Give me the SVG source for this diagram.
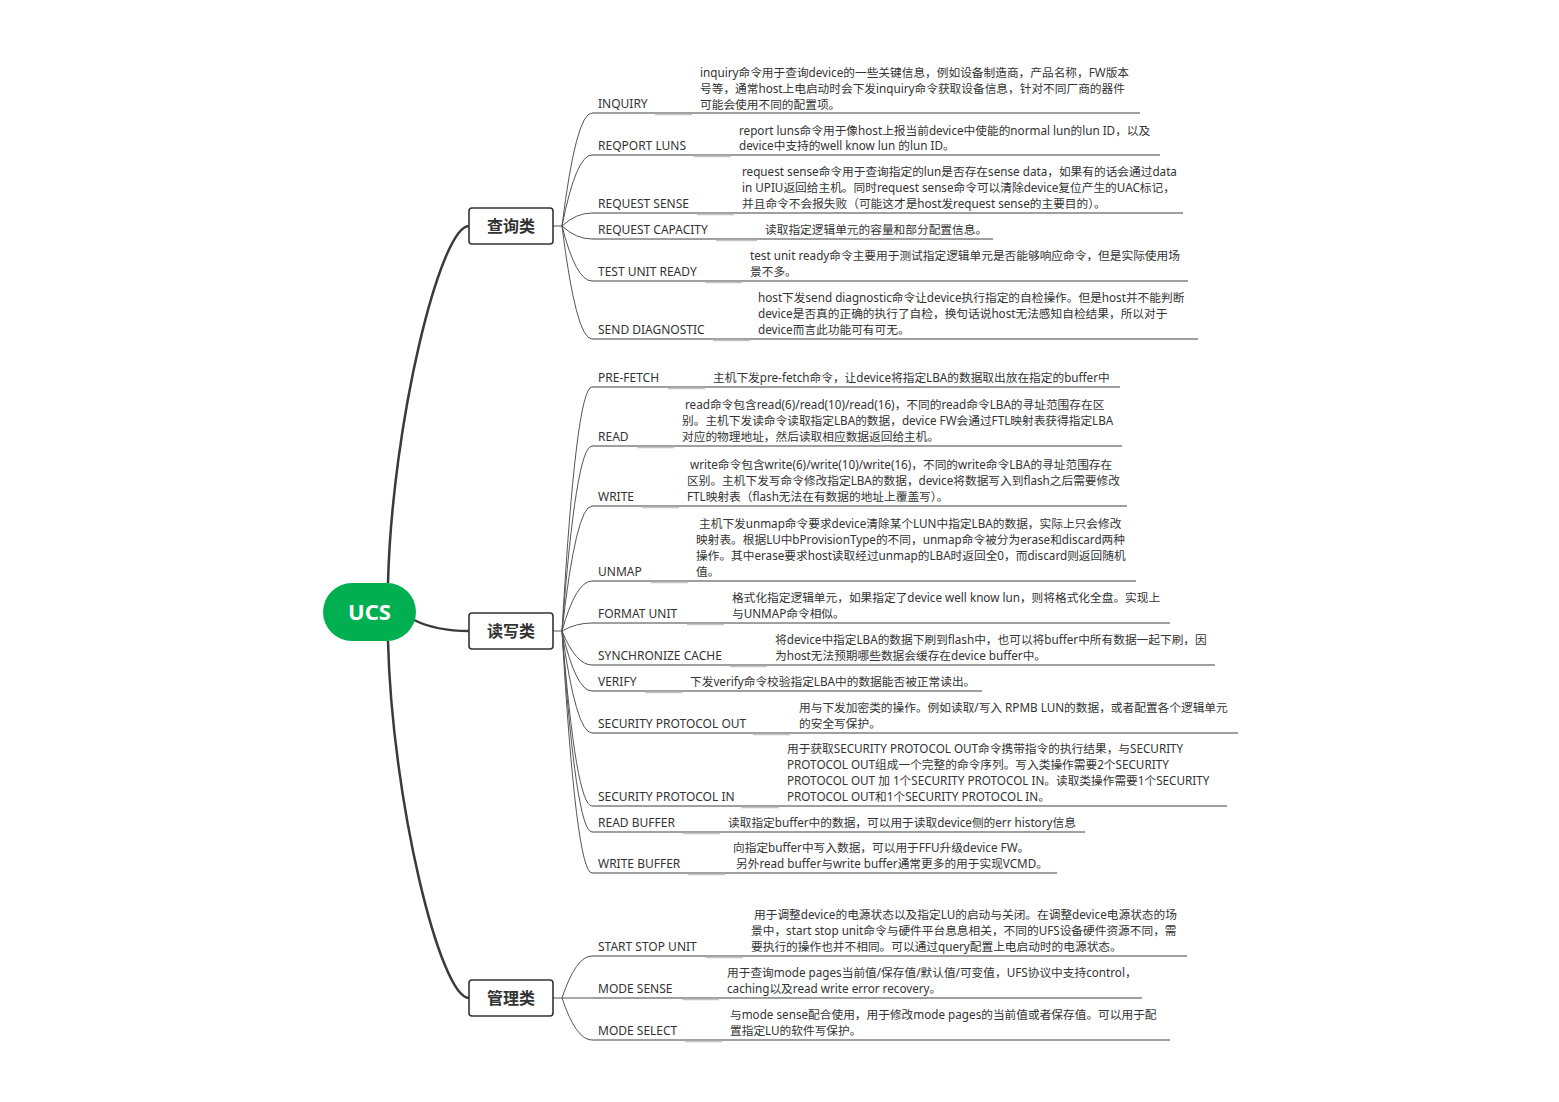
<svg xmlns="http://www.w3.org/2000/svg" width="1559" height="1102" viewBox="0 0 1559 1102">
<style>
text{font-family:'Noto Sans','Noto Sans CJK SC',sans-serif;fill:#333}
.t{font-size:12px}
.d{font-size:11.7px}
.cat rect{fill:#fff;stroke:#333;stroke-width:1.6}
.cat text{font-family:'Noto Sans CJK SC','Noto Sans',sans-serif;font-size:16px;font-weight:700;text-anchor:middle}
.main{fill:none;stroke:#3a3a3a;stroke-width:2.5}
.br{fill:none;stroke:#555;stroke-width:1}
.ul{fill:none;stroke:#404040;stroke-width:1}
.gs{fill:none;stroke:#c4c4c4;stroke-width:1.5}
</style>
<rect width="1559" height="1102" fill="#fff"/>
<g id="connectors">
<path class="main" d="M388 583 C392 424 440 226 469 226"/>
<path class="main" d="M414 620 Q436 631 469 631"/>
<path class="main" d="M388 641 C392 800 440 998 469 998"/>
<path class="br" d="M553 226H562M553 631H562M553 998H562"/>
<path class="br" d="M562 226Q576 113 592 113M562 226Q576 155 592 155M562 226Q576 213 592 213M562 226Q576 239 592 239M562 226Q576 281 592 281M562 226Q576 339 592 339"/>
<path class="br" d="M562 631Q576 387 592 387M562 631Q576 446 592 446M562 631Q576 506 592 506M562 631Q576 581 592 581M562 631Q576 623 592 623M562 631Q576 665 592 665M562 631Q576 691 592 691M562 631Q576 733 592 733M562 631Q576 806 592 806M562 631Q576 832 592 832M562 631Q576 873 592 873"/>
<path class="br" d="M562 998Q576 956 592 956M562 998H592M562 998Q576 1040 592 1040"/>
</g>
<g id="ucs"><rect x="323" y="583" width="93" height="58" rx="29" fill="#00B050"/><text x="369.5" y="620" text-anchor="middle" font-size="22" font-weight="700" style="fill:#fff">UCS</text></g>
<g id="cat-query" class="cat"><rect x="469" y="208" width="84" height="36" rx="3"/><text x="511" y="232">查询类</text></g>
<g id="cat-rw" class="cat"><rect x="469" y="613" width="84" height="36" rx="3"/><text x="511" y="637">读写类</text></g>
<g id="cat-mgmt" class="cat"><rect x="469" y="980" width="84" height="36" rx="3"/><text x="511" y="1004">管理类</text></g>

<g id="n-inquiry"><path class="ul" d="M592 113H1140"/><path class="gs" d="M655 114.5H692"/><text class="t" x="598" y="108">INQUIRY</text><text class="d"><tspan x="700" y="76.5">inquiry命令用于查询device的一些关键信息，例如设备制造商，产品名称，FW版本</tspan><tspan x="700" y="92.5">号等，通常host上电启动时会下发inquiry命令获取设备信息，针对不同厂商的器件</tspan><tspan x="700" y="108.5">可能会使用不同的配置项。</tspan></text></g>
<g id="n-reportluns"><path class="ul" d="M592 155H1160"/><path class="gs" d="M694 156.5H731"/><text class="t" x="598" y="150">REQPORT LUNS</text><text class="d"><tspan x="739" y="134.5">report luns命令用于像host上报当前device中使能的normal lun的lun ID，以及</tspan><tspan x="739" y="150">device中支持的well know lun 的lun ID。</tspan></text></g>
<g id="n-reqsense"><path class="ul" d="M592 213H1183"/><path class="gs" d="M697 214.5H734"/><text class="t" x="598" y="208">REQUEST SENSE</text><text class="d"><tspan x="742" y="176">request sense命令用于查询指定的lun是否存在sense data，如果有的话会通过data</tspan><tspan x="742" y="192">in UPIU返回给主机。同时request sense命令可以清除device复位产生的UAC标记，</tspan><tspan x="742" y="208">并且命令不会报失败（可能这才是host发request sense的主要目的）。</tspan></text></g>
<g id="n-reqcap"><path class="ul" d="M592 239H993"/><path class="gs" d="M716 240.5H757"/><text class="t" x="598" y="234">REQUEST CAPACITY</text><text class="d" x="765" y="234">读取指定逻辑单元的容量和部分配置信息。</text></g>
<g id="n-tur"><path class="ul" d="M592 281H1188"/><path class="gs" d="M705 282.5H742"/><text class="t" x="598" y="276">TEST UNIT READY</text><text class="d"><tspan x="750" y="260">test unit ready命令主要用于测试指定逻辑单元是否能够响应命令，但是实际使用场</tspan><tspan x="750" y="276">景不多。</tspan></text></g>
<g id="n-senddiag"><path class="ul" d="M592 339H1198"/><path class="gs" d="M713 340.5H750"/><text class="t" x="598" y="334">SEND DIAGNOSTIC</text><text class="d"><tspan x="758" y="302">host下发send  diagnostic命令让device执行指定的自检操作。但是host并不能判断</tspan><tspan x="758" y="318">device是否真的正确的执行了自检，换句话说host无法感知自检结果，所以对于</tspan><tspan x="758" y="334">device而言此功能可有可无。</tspan></text></g>

<g id="n-prefetch"><path class="ul" d="M592 387H1120"/><path class="gs" d="M668 388.5H705"/><text class="t" x="598" y="382">PRE-FETCH</text><text class="d" x="713" y="382">主机下发pre-fetch命令，让device将指定LBA的数据取出放在指定的buffer中</text></g>
<g id="n-read"><path class="ul" d="M592 446H1122"/><path class="gs" d="M637 447.5H674"/><text class="t" x="598" y="441">READ</text><text class="d"><tspan x="685" y="409">read命令包含read(6)/read(10)/read(16)，不同的read命令LBA的寻址范围存在区</tspan><tspan x="682" y="425">别。主机下发读命令读取指定LBA的数据，device FW会通过FTL映射表获得指定LBA</tspan><tspan x="682" y="441">对应的物理地址，然后读取相应数据返回给主机。</tspan></text></g>
<g id="n-write"><path class="ul" d="M592 506H1127"/><path class="gs" d="M642 507.5H679"/><text class="t" x="598" y="501">WRITE</text><text class="d"><tspan x="690" y="469">write命令包含write(6)/write(10)/write(16)，不同的write命令LBA的寻址范围存在</tspan><tspan x="687" y="485">区别。主机下发写命令修改指定LBA的数据，device将数据写入到flash之后需要修改</tspan><tspan x="687" y="501">FTL映射表（flash无法在有数据的地址上覆盖写）。</tspan></text></g>
<g id="n-unmap"><path class="ul" d="M592 581H1136"/><path class="gs" d="M651 582.5H688"/><text class="t" x="598" y="576">UNMAP</text><text class="d"><tspan x="699" y="528">主机下发unmap命令要求device清除某个LUN中指定LBA的数据，实际上只会修改</tspan><tspan x="696" y="544">映射表。根据LU中bProvisionType的不同，unmap命令被分为erase和discard两种</tspan><tspan x="696" y="560">操作。其中erase要求host读取经过unmap的LBA时返回全0，而discard则返回随机</tspan><tspan x="696" y="576">值。</tspan></text></g>
<g id="n-format"><path class="ul" d="M592 623H1170"/><path class="gs" d="M687 624.5H724"/><text class="t" x="598" y="618">FORMAT UNIT</text><text class="d"><tspan x="732" y="602">格式化指定逻辑单元，如果指定了device well know lun，则将格式化全盘。实现上</tspan><tspan x="732" y="618">与UNMAP命令相似。</tspan></text></g>
<g id="n-sync"><path class="ul" d="M592 665H1215"/><path class="gs" d="M730 666.5H767"/><text class="t" x="598" y="660">SYNCHRONIZE CACHE</text><text class="d"><tspan x="775" y="644">将device中指定LBA的数据下刷到flash中，也可以将buffer中所有数据一起下刷，因</tspan><tspan x="775" y="660">为host无法预期哪些数据会缓存在device buffer中。</tspan></text></g>
<g id="n-verify"><path class="ul" d="M592 691H982"/><path class="gs" d="M645 692.5H682"/><text class="t" x="598" y="686">VERIFY</text><text class="d" x="690" y="686">下发verify命令校验指定LBA中的数据能否被正常读出。</text></g>
<g id="n-spo"><path class="ul" d="M592 733H1238"/><path class="gs" d="M753 734.5H790"/><text class="t" x="598" y="728">SECURITY PROTOCOL OUT</text><text class="d"><tspan x="799" y="712">用与下发加密类的操作。例如读取/写入 RPMB LUN的数据，或者配置各个逻辑单元</tspan><tspan x="799" y="728">的安全写保护。</tspan></text></g>
<g id="n-spi"><path class="ul" d="M592 806H1227"/><path class="gs" d="M741 807.5H779"/><text class="t" x="598" y="801">SECURITY PROTOCOL IN</text><text class="d"><tspan x="787" y="753">用于获取SECURITY PROTOCOL OUT命令携带指令的执行结果，与SECURITY</tspan><tspan x="787" y="769">PROTOCOL OUT组成一个完整的命令序列。写入类操作需要2个SECURITY</tspan><tspan x="787" y="785">PROTOCOL OUT 加 1个SECURITY PROTOCOL IN。读取类操作需要1个SECURITY</tspan><tspan x="787" y="801">PROTOCOL OUT和1个SECURITY PROTOCOL IN。</tspan></text></g>
<g id="n-readbuf"><path class="ul" d="M592 832H1085"/><path class="gs" d="M683 833.5H720"/><text class="t" x="598" y="827">READ BUFFER</text><text class="d" x="728" y="827">读取指定buffer中的数据，可以用于读取device侧的err history信息</text></g>
<g id="n-writebuf"><path class="ul" d="M592 873H1057"/><path class="gs" d="M688 874.5H725"/><text class="t" x="598" y="868">WRITE BUFFER</text><text class="d"><tspan x="733" y="852">向指定buffer中写入数据，可以用于FFU升级device FW。</tspan><tspan x="736" y="868">另外read buffer与write buffer通常更多的用于实现VCMD。</tspan></text></g>

<g id="n-ssu"><path class="ul" d="M592 956H1187"/><path class="gs" d="M706 957.5H743"/><text class="t" x="598" y="951">START STOP UNIT</text><text class="d"><tspan x="754" y="919">用于调整device的电源状态以及指定LU的启动与关闭。在调整device电源状态的场</tspan><tspan x="751" y="935">景中，start stop unit命令与硬件平台息息相关，不同的UFS设备硬件资源不同，需</tspan><tspan x="751" y="951">要执行的操作也并不相同。可以通过query配置上电启动时的电源状态。</tspan></text></g>
<g id="n-modesense"><path class="ul" d="M592 998H1142"/><path class="gs" d="M682 999.5H719"/><text class="t" x="598" y="993">MODE SENSE</text><text class="d"><tspan x="727" y="977">用于查询mode pages当前值/保存值/默认值/可变值，UFS协议中支持control，</tspan><tspan x="727" y="993">caching以及read write error recovery。</tspan></text></g>
<g id="n-modeselect"><path class="ul" d="M592 1040H1170"/><path class="gs" d="M685 1041.5H722"/><text class="t" x="598" y="1035">MODE SELECT</text><text class="d"><tspan x="730" y="1019">与mode sense配合使用，用于修改mode pages的当前值或者保存值。可以用于配</tspan><tspan x="730" y="1035">置指定LU的软件写保护。</tspan></text></g>
</svg>
